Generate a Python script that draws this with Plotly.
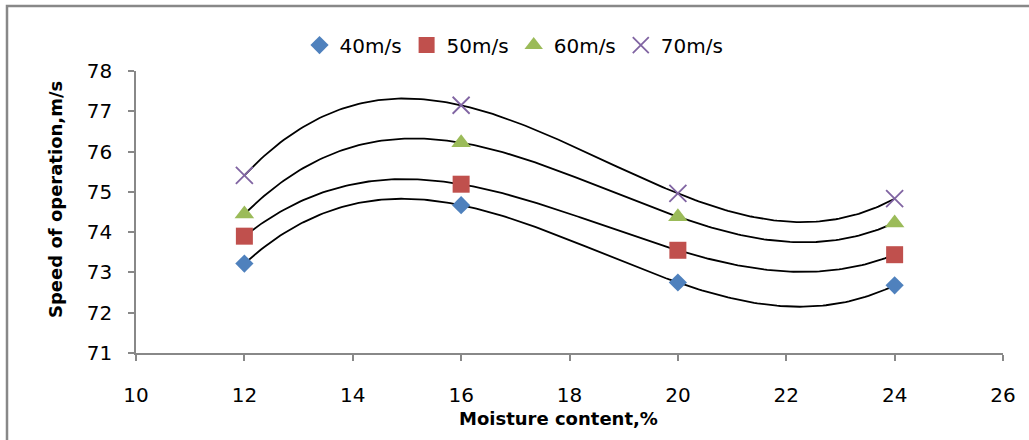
import numpy as np
import plotly.graph_objects as go

moisture = [12, 16, 20, 24]
speed_40 = [73.22, 74.67, 72.75, 72.68]
speed_50 = [73.90, 75.19, 73.55, 73.44]
speed_60 = [74.45, 76.22, 74.38, 74.23]
speed_70 = [75.41, 77.15, 74.96, 74.83]

series = [
    ("40m/s", speed_40, "diamond", "#4F81BD", 14),
    ("50m/s", speed_50, "square", "#C0504D", 17),
    ("60m/s", speed_60, "triangle-up", "#9BBB59", 17),
    ("70m/s", speed_70, "x-thin", "#8064A2", 17),
]

x_title = "Moisture content,%"
y_title = "Speed of operation,m/s"

fig = go.Figure()

xs = np.linspace(min(moisture), max(moisture), 200)
for name, ys, sym, col, sz in series:
    coef = np.polyfit(moisture, ys, 3)
    fig.add_trace(go.Scatter(x=xs, y=np.polyval(coef, xs), mode="lines",
                             line=dict(color="black", width=1.8),
                             showlegend=False, hoverinfo="skip"))

for name, ys, sym, col, sz in series:
    if sym == "x-thin":
        marker = dict(symbol=sym, size=sz, line=dict(color=col, width=1.8), color=col)
    else:
        marker = dict(symbol=sym, size=sz, color=col)
    fig.add_trace(go.Scatter(x=moisture, y=ys, mode="markers", name=name, marker=marker))

FONT = "DejaVu Sans, Liberation Sans, Arial"
axis_font = dict(family=FONT, size=20, color="black")
title_font = dict(family=FONT, size=18, color="black")

L, T, W, H = 136, 71, 867, 282

fig.update_layout(
    width=1029, height=440,
    margin=dict(l=L, r=26, t=T, b=87),
    paper_bgcolor="white", plot_bgcolor="white",
    legend=dict(orientation="h", x=0.436, xanchor="center", y=1.092, yanchor="middle",
                font=dict(family=FONT, size=20, color="black"),
                itemwidth=30, tracegroupgap=0, bgcolor="rgba(0,0,0,0)"),
    xaxis=dict(range=[10, 26], tickvals=list(range(10, 27, 2)), showgrid=False, zeroline=False,
               showline=True, linecolor="#888888", linewidth=1.5, automargin=False,
               ticks="outside", ticklen=6, tickcolor="#888888", tickwidth=1.5,
               tickfont=axis_font, ticklabelstandoff=17),
    yaxis=dict(range=[71, 78], tickvals=list(range(71, 79)), showgrid=False, zeroline=False,
               showline=True, linecolor="#888888", linewidth=1.5, automargin=False,
               ticks="outside", ticklen=6, tickcolor="#888888", tickwidth=1.5,
               tickfont=axis_font, ticklabelstandoff=12),
    annotations=[
        dict(text="<b>" + x_title + "</b>", xref="paper", yref="paper",
             x=(558 - L) / W, y=-(418 - (T + H)) / H, xanchor="center", yanchor="middle",
             showarrow=False, font=title_font),
        dict(text="<b>" + y_title + "</b>", xref="paper", yref="paper",
             x=(56 - L) / W, y=1 - (200 - T) / H, xanchor="center", yanchor="middle",
             textangle=-90, showarrow=False, font=title_font),
    ],
    shapes=[dict(type="rect", xref="paper", yref="paper",
                 x0=(7 - L) / W, x1=1.2, y0=-0.6, y1=1 + (T - 6) / H,
                 line=dict(color="#888888", width=2.5), layer="below")],
)

fig.write_html("out.html", config={"displayModeBar": False},
               post_script="document.body.style.margin='0';document.body.style.overflow='hidden';")
